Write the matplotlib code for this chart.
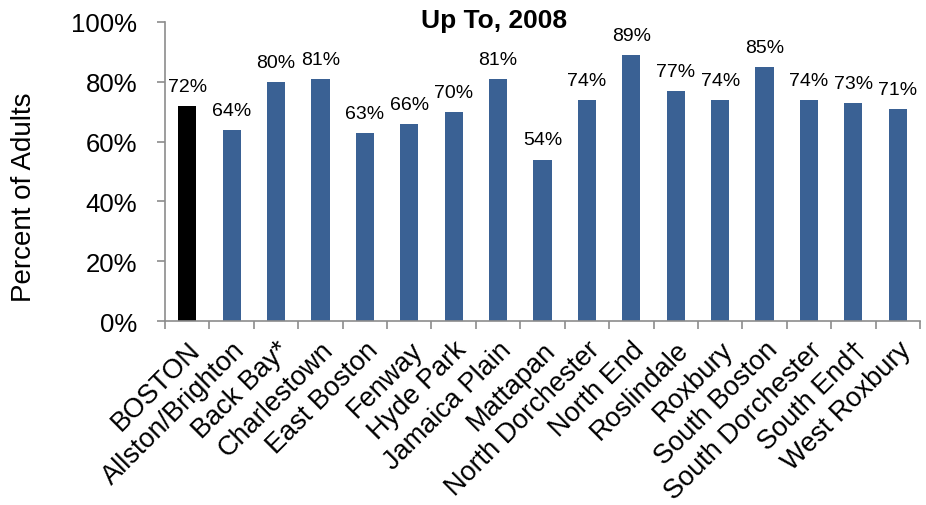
import matplotlib.pyplot as plt
import numpy as np

plt.rcParams["font.family"] = ["Liberation Sans", "DejaVu Sans"]

neighborhoods = [
    "BOSTON", "Allston/Brighton", "Back Bay*", "Charlestown", "East Boston",
    "Fenway", "Hyde Park", "Jamaica Plain", "Mattapan", "North Dorchester",
    "North End", "Roslindale", "Roxbury", "South Boston", "South Dorchester",
    "South End\u2020", "West Roxbury",
]
percent = [72, 64, 80, 81, 63, 66, 70, 81, 54, 74, 89, 77, 74, 85, 74, 73, 71]
y_ticks = [0, 20, 40, 60, 80, 100]

BLUE = "#3A6194"
GRAY = "#8C8C8C"


def main() -> None:
    fig = plt.figure(figsize=(9.26, 5.06), dpi=100)
    ax = fig.add_axes([165 / 926, 1 - 322 / 506, 755 / 926, 299 / 506])

    x = np.arange(len(neighborhoods))
    colors = ["black"] + [BLUE] * (len(neighborhoods) - 1)
    ax.bar(x, percent, width=0.41, color=colors, zorder=2)

    for xi, v in zip(x, percent):
        ax.annotate(f"{v}%", (xi, v), xytext=(0, 8), textcoords="offset points",
                    ha="center", va="bottom", fontsize=14)

    ax.set_xlim(-0.5, len(neighborhoods) - 0.5)
    ax.set_ylim(0, 100)
    ax.set_yticks(y_ticks)
    ax.set_yticklabels([f"{t}%" for t in y_ticks], fontsize=18.5)

    ax.set_xticks(x)
    ax.set_xticklabels(neighborhoods, rotation=45, ha="right",
                       rotation_mode="anchor", fontsize=19.5)
    ax.tick_params(axis="x", length=0, pad=11)
    ax.set_xticks(np.arange(len(neighborhoods) + 1) - 0.5, minor=True)
    ax.tick_params(axis="x", which="minor", length=6, color=GRAY, width=1.2)
    ax.tick_params(axis="y", length=6, color=GRAY, width=1.2, pad=14)

    for side in ("top", "right"):
        ax.spines[side].set_visible(False)
    for side in ("left", "bottom"):
        ax.spines[side].set_color(GRAY)
        ax.spines[side].set_linewidth(1.2)

    fig.text(24 / 926, 1 - 197 / 506, "Percent of Adults", rotation=90,
             ha="center", va="center", fontsize=20)
    fig.text(494 / 926, 1 - 28 / 506, "Up To, 2008", ha="center",
             va="baseline", fontsize=19, fontweight="bold")

    fig.savefig("out.png", dpi=100)


if __name__ == "__main__":
    main()
